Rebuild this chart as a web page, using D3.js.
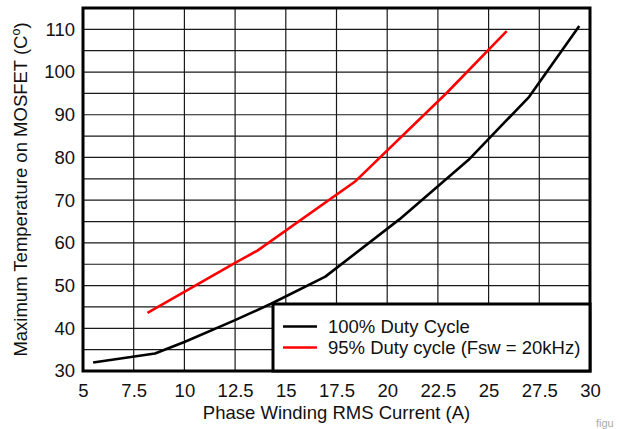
<!DOCTYPE html>
<html>
<head>
<meta charset="utf-8">
<script src="https://cdn.jsdelivr.net/npm/d3@7"></script>
<style>
html,body{margin:0;padding:0;background:#fff;}
svg{display:block;font-family:"Liberation Sans",Arial,sans-serif;}
</style>
</head>
<body>
<svg id="chart" width="619" height="429"></svg>
<script>
// Data
const dutyFull = [ // 100% Duty Cycle
  [5.5, 32.0], [8.55, 34.1], [10, 36.8], [12.5, 41.9], [14.3, 45.8],
  [16.95, 52.1], [20.6, 65.5], [24.0, 79.4], [27.0, 94.2], [29.47, 110.8]
];
const duty95 = [ // 95% Duty cycle (Fsw = 20kHz)
  [8.18, 43.6], [12.5, 55.3], [13.6, 58.2], [18.4, 74.3], [22.93, 95.1], [25.89, 109.6]
];
const xTicks = [5, 7.5, 10, 12.5, 15, 17.5, 20, 22.5, 25, 27.5, 30];
const yTicks = [30, 40, 50, 60, 70, 80, 90, 100, 110];
const yGrid = [30, 35, 40, 45, 50, 55, 60, 65, 70, 75, 80, 85, 90, 95, 100, 105, 110, 115];
const seriesNames = ["100% Duty Cycle", "95% Duty cycle (Fsw = 20kHz)"];
const seriesColors = ["#000000", "#ff0000"];

const svg = d3.select("#chart");
const L = 83, R = 590, T = 8, B = 371;
const FS = 18.5;
const x = d3.scaleLinear().domain([5, 30]).range([L, R]);
const y = d3.scaleLinear().domain([30, 115]).range([B, T]);

// grid
const g = svg.append("g");
g.selectAll("line.v").data(xTicks).join("line")
  .attr("x1", d => x(d)).attr("x2", d => x(d)).attr("y1", T).attr("y2", B)
  .attr("stroke", "#1a1a1a").attr("stroke-width", 1.2);
g.selectAll("line.h").data(yGrid).join("line")
  .attr("x1", L).attr("x2", R).attr("y1", d => y(d)).attr("y2", d => y(d))
  .attr("stroke", "#1a1a1a").attr("stroke-width", 1.2);

// lines
const line = d3.line().x(d => x(d[0])).y(d => y(d[1]));
[dutyFull, duty95].forEach((s, i) => {
  svg.append("path").datum(s).attr("d", line)
    .attr("fill", "none").attr("stroke", seriesColors[i]).attr("stroke-width", 2.6)
    .attr("stroke-linejoin", "round");
});

// frame
svg.append("rect").attr("x", L).attr("y", T).attr("width", R - L).attr("height", B - T)
  .attr("fill", "none").attr("stroke", "#000").attr("stroke-width", 3);

// axes labels via d3 axes
const xAxis = d3.axisBottom(x).tickValues(xTicks).tickSize(0).tickPadding(13)
  .tickFormat(d => String(d));
const xa = svg.append("g").attr("transform", `translate(0,${B})`).call(xAxis);
xa.select(".domain").remove();
xa.selectAll("text").attr("font-size", FS).attr("fill", "#111").attr("font-family", "Liberation Sans, Arial, sans-serif");

const yAxis = d3.axisLeft(y).tickValues(yTicks).tickSize(0).tickPadding(8)
  .tickFormat(d => String(d));
const ya = svg.append("g").attr("transform", `translate(${L},0)`).call(yAxis);
ya.select(".domain").remove();
ya.selectAll("text").attr("font-size", FS).attr("fill", "#111").attr("font-family", "Liberation Sans, Arial, sans-serif");

// axis titles
svg.append("text").attr("x", (L + R) / 2).attr("y", 419).attr("text-anchor", "middle")
  .attr("font-size", FS).attr("fill", "#111").text("Phase Winding RMS Current (A)");
const yt = svg.append("text").attr("transform", `translate(27,${(T + B) / 2}) rotate(-90)`)
  .attr("text-anchor", "middle").attr("font-size", FS).attr("fill", "#111");
yt.append("tspan").text("Maximum Temperature on MOSFET (C");
yt.append("tspan").attr("font-size", 12.5).attr("dy", -7).text("o");
yt.append("tspan").attr("dy", 7).text(")");

// legend
const lg = svg.append("g");
lg.append("rect").attr("x", 273).attr("y", 304).attr("width", R - 273).attr("height", B - 304)
  .attr("fill", "#fff").attr("stroke", "#000").attr("stroke-width", 3);
seriesNames.forEach((n, i) => {
  const yy = 326.5 + i * 21;
  lg.append("line").attr("x1", 283).attr("x2", 317).attr("y1", yy).attr("y2", yy)
    .attr("stroke", seriesColors[i]).attr("stroke-width", 2.6);
  lg.append("text").attr("x", 328).attr("y", yy + 6.5).attr("font-size", FS).attr("fill", "#111").text(n);
});

// watermark
svg.append("text").attr("x", 596).attr("y", 427).attr("font-size", 11).attr("fill", "#aaa").text("figu");
</script>
</body>
</html>
